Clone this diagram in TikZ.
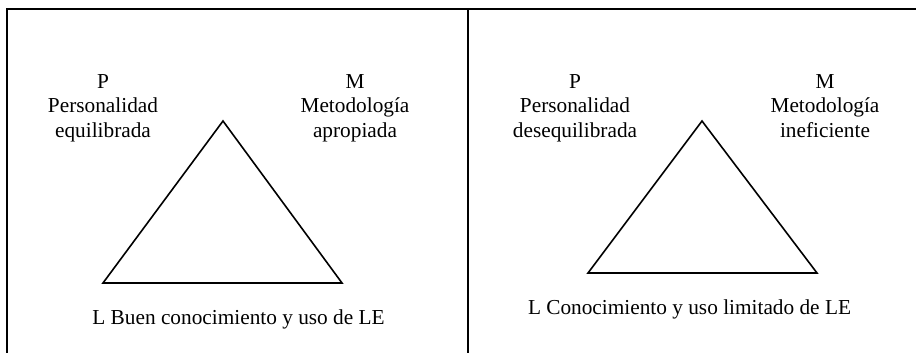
\documentclass[tikz,border=0pt]{standalone}
\usepackage{fontspec}
\setmainfont{Liberation Serif}
\usepackage{tikz}
\tikzstyle{frame} = [draw=black, line width=1.3pt]
\tikzstyle{tri} = [draw=black, line width=0.8pt, line join=miter]
\tikzstyle{lbl} = [align=center, inner sep=0pt,
    font=\fontsize{10.65}{12.25}\selectfont]

\begin{document}
\begin{tikzpicture}[x=0.5pt, y=-0.5pt]
                \useasboundingbox (0,0) rectangle (916,353);
                \draw[frame] (7,353) -- (7,9) -- (916,9);
                \draw[frame] (468,9) -- (468,353);

                \node[lbl, anchor=north] (pleft) at (103,74) {P\\Personalidad\\equilibrada};
                \node[lbl, anchor=north] (mleft) at (355,74) {M\\Metodología\\apropiada};
                \coordinate (topleft) at (223,121);
                \coordinate (pcornerleft) at (103,283);
                \coordinate (mcornerleft) at (342,283);
                \draw[tri] (topleft) -- (pcornerleft) -- (mcornerleft) -- cycle;
                \node[lbl, anchor=base] (lleft) at (238.5,324) {L Buen conocimiento y uso de LE};

                \node[lbl, anchor=north] (pright) at (575,74) {P\\Personalidad\\desequilibrada};
                \node[lbl, anchor=north] (mright) at (825,74) {M\\Metodología\\ineficiente};
                \coordinate (topright) at (702,121);
                \coordinate (pcornerright) at (588,273);
                \coordinate (mcornerright) at (817,273);
                \draw[tri] (topright) -- (pcornerright) -- (mcornerright) -- cycle;
                \node[lbl, anchor=base] (lright) at (689.5,314) {L Conocimiento y uso limitado de LE};
            \end{tikzpicture}
\end{document}
